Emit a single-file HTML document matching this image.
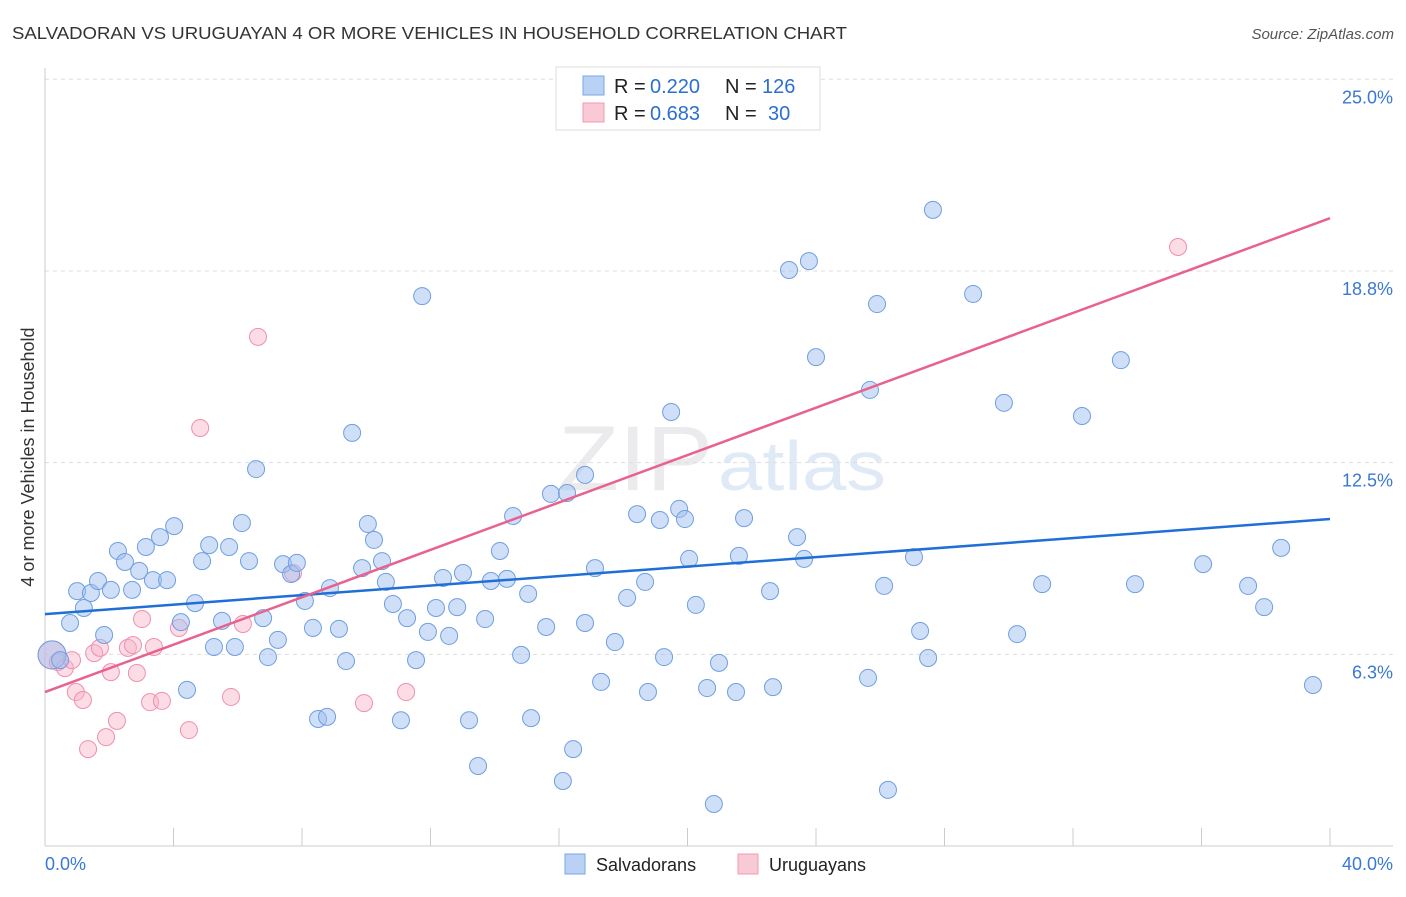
<!DOCTYPE html>
<html><head><meta charset="utf-8"><style>
body{margin:0;background:#fff;font-family:"Liberation Sans",sans-serif}
svg text{font-family:"Liberation Sans",sans-serif}
</style></head><body>
<svg id="chart" width="1406" height="892" xmlns="http://www.w3.org/2000/svg">
<text x="12" y="39" font-size="17.5" fill="#333" textLength="835" lengthAdjust="spacingAndGlyphs">SALVADORAN VS URUGUAYAN 4 OR MORE VEHICLES IN HOUSEHOLD CORRELATION CHART</text>
<text x="1394" y="39" font-size="15" fill="#555" font-style="italic" text-anchor="end">Source: ZipAtlas.com</text>
<text x="558" y="490" font-size="92" fill="#ebebee" font-family="Liberation Serif" textLength="155" lengthAdjust="spacingAndGlyphs">ZIP</text>
<text x="718" y="490" font-size="70" fill="#e0eaf6" textLength="168" lengthAdjust="spacingAndGlyphs">atlas</text>
<g id="grid"></g><g id="marks"></g>
<text transform="translate(34,457) rotate(-90)" font-size="18" fill="#333" text-anchor="middle">4 or more Vehicles in Household</text>
<g>
<rect x="556" y="67" width="264" height="63" fill="#fff" stroke="#ddd"/>
<rect x="583" y="76" width="21" height="19" fill="#b8d1f5" stroke="#7aa6e6"/>
<rect x="583" y="103" width="21" height="19" fill="#f9c9d6" stroke="#f09ab4"/>
<text x="614" y="93" font-size="20" fill="#222">R =</text>
<text x="650" y="93" font-size="20" fill="#2b6fd0">0.220</text>
<text x="725" y="93" font-size="20" fill="#222">N =</text>
<text x="762" y="93" font-size="20" fill="#2b6fd0">126</text>
<text x="614" y="120" font-size="20" fill="#222">R =</text>
<text x="650" y="120" font-size="20" fill="#2b6fd0">0.683</text>
<text x="725" y="120" font-size="20" fill="#222">N =</text>
<text x="768" y="120" font-size="20" fill="#2b6fd0">30</text>
</g>
<rect x="565" y="854" width="20" height="20" fill="#b8d1f5" stroke="#7aa6e6"/>
<text x="596" y="871" font-size="18" fill="#222">Salvadorans</text>
<rect x="738" y="854" width="20" height="20" fill="#f9c9d6" stroke="#f09ab4"/>
<text x="769" y="871" font-size="18" fill="#222">Uruguayans</text>
</svg>
<script>
const xTickLabels=["0.0%","40.0%"];
const yTicks=[6.25,12.5,18.75,25];
const yTickLabels=["6.3%","12.5%","18.8%","25.0%"];
const blueX=[0.22,0.47,0.78,1.00,1.21,1.43,1.65,1.84,2.05,2.27,2.49,2.71,2.93,3.14,3.36,3.58,3.80,4.02,4.23,4.42,4.67,4.89,5.11,5.26,5.51,5.73,5.91,6.13,6.35,6.57,6.79,6.94,7.25,7.41,7.66,7.84,8.09,8.34,8.50,8.78,8.87,9.15,9.37,9.56,9.87,10.05,10.24,10.49,10.61,10.83,11.08,11.27,11.55,11.74,11.92,12.17,12.39,12.58,12.83,13.01,13.20,13.48,13.70,13.88,14.16,14.38,14.57,14.82,15.04,15.13,15.60,15.75,16.12,16.25,16.44,16.81,16.81,17.12,17.31,17.74,18.12,18.43,18.68,18.77,19.14,19.27,19.49,19.74,19.92,20.05,20.26,20.61,20.82,20.98,21.51,21.60,21.76,22.57,22.66,23.16,23.41,23.63,23.78,24.00,25.62,25.68,25.90,26.12,26.24,27.05,27.24,27.49,27.64,28.89,29.85,30.26,31.04,32.28,33.49,33.93,36.05,37.45,37.95,38.48,39.47];
const blueY=[6.23,6.06,7.27,8.31,7.76,8.25,8.64,6.88,8.35,9.62,9.26,8.35,8.97,9.75,8.67,10.07,8.67,10.43,7.30,5.09,7.92,9.29,9.81,6.49,7.34,9.75,6.49,10.53,9.29,12.29,7.43,6.16,6.72,9.19,8.87,9.23,7.99,7.11,4.14,4.21,8.41,7.08,6.03,13.47,9.06,10.50,9.98,9.29,8.61,7.89,4.10,7.43,6.06,17.93,6.98,7.76,8.74,6.85,7.79,8.90,4.10,2.61,7.40,8.64,9.62,8.71,10.76,6.23,8.22,4.17,7.14,11.48,2.12,11.51,3.16,12.10,7.27,9.06,5.35,6.65,8.09,10.82,8.61,5.02,10.63,6.16,14.15,10.99,10.66,9.36,7.86,5.15,1.37,5.97,5.02,9.46,10.69,8.31,5.18,18.78,10.07,9.36,19.07,15.94,5.48,14.87,17.67,8.48,1.83,9.42,7.01,6.13,20.74,18.00,14.45,6.91,8.54,14.02,15.84,8.54,9.19,8.48,7.79,9.72,5.25];
const pinkX=[0.22,0.40,0.62,0.84,0.96,1.18,1.34,1.53,1.71,1.90,2.05,2.24,2.58,2.74,2.86,3.02,3.27,3.39,3.64,4.17,4.48,4.83,5.79,6.16,6.63,7.72,9.93,11.24,35.27];
const pinkY=[6.23,6.00,5.80,6.06,5.02,4.76,3.16,6.29,6.46,3.55,5.67,4.08,6.46,6.55,5.64,7.40,4.69,6.49,4.73,7.11,3.78,13.63,4.86,7.24,16.60,8.90,4.66,5.02,19.53];
const blueTrend=[7.56,10.66];
const pinkTrend=[5.02,20.47];

const NS="http://www.w3.org/2000/svg";
const X0=45,X1=1330,Y0=846,YPER=30.67;
const sx=v=>X0+(X1-X0)*v/40;
const sy=v=>Y0-v*YPER;
function mk(tag,attrs,parent){const e=document.createElementNS(NS,tag);for(const k in attrs)e.setAttribute(k,attrs[k]);parent.appendChild(e);return e;}
const grid=document.getElementById('grid'),marks=document.getElementById('marks');
yTicks.forEach((t,i)=>{
  const l=mk('line',{x1:45,x2:1393,y1:sy(t),y2:sy(t),stroke:'#ddd','stroke-dasharray':'4,4'},grid);
  
  
  const tx=mk('text',{x:1393,y:sy(t)+24,'font-size':18,fill:'#3a78d4','text-anchor':'end'},grid);
  tx.textContent=yTickLabels[i];
  
  
});
const ax=mk('line',{x1:45,x2:45,y1:68,y2:846,stroke:'#ccc'},grid);


const bx=mk('line',{x1:45,x2:1393,y1:846,y2:846,stroke:'#ccc'},grid);


for(let i=0;i<=10;i++){
  const t=mk('line',{x1:sx(i*4),x2:sx(i*4),y1:828,y2:846,stroke:'#ccc'},grid);
  
  
}
const xl0=mk('text',{x:45,y:870,'font-size':18,fill:'#3a78d4'},grid);
xl0.textContent=xTickLabels[0];


const xl1=mk('text',{x:1393,y:870,'font-size':18,fill:'#3a78d4','text-anchor':'end'},grid);
xl1.textContent=xTickLabels[1];



function pts(xs,ys,fill,stroke,name){
  xs.forEach((x,i)=>{
    const c=mk('circle',{cx:sx(x),cy:sy(ys[i]),r:i===0?14:8.5,fill:fill,stroke:stroke,'stroke-width':1},marks);
    
    
  });
}
pts(pinkX,pinkY,'rgba(248,180,200,0.45)','#ef8fae','uruguayan-point');
pts(blueX,blueY,'rgba(160,192,240,0.5)','#6f9fe0','salvadoran-point');
const bl=mk('line',{x1:sx(0),y1:sy(blueTrend[0]),x2:sx(40),y2:sy(blueTrend[1]),stroke:'#1f6fd6','stroke-width':2.5},marks);


const pl=mk('line',{x1:sx(0),y1:sy(pinkTrend[0]),x2:sx(40),y2:sy(pinkTrend[1]),stroke:'#e8618f','stroke-width':2.5},marks);


</script>
</body></html>
